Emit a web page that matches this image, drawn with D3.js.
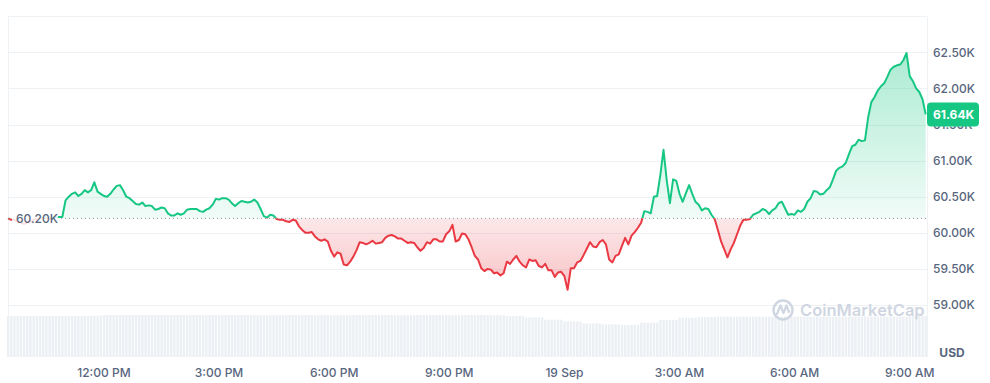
<!DOCTYPE html>
<html>
<head>
<meta charset="utf-8">
<script src="https://cdn.jsdelivr.net/npm/d3@7"></script>
<style>
  body { margin: 0; background: #fff; }
  svg { display: block; font-family: Inter, "Noto Sans", sans-serif; }
  .tick-label { font-size: 12px; font-weight: 500; fill: #58667e; }
</style>
</head>
<body>
<div id="chart"></div>
<script>
// BTC price, thousands USD, one value every 5 minutes from 18 Sep 9:30 AM
const prices = [
  60.20, 60.18, 60.18, 60.16, 60.14, 60.12, 60.14, 60.16, 60.18, 60.19,
  60.20, 60.20, 60.20, 60.20, 60.21, 60.22, 60.22, 60.22, 60.45, 60.50,
  60.54, 60.56, 60.51, 60.54, 60.59, 60.56, 60.59, 60.70, 60.57, 60.54,
  60.51, 60.50, 60.54, 60.60, 60.65, 60.66, 60.59, 60.50, 60.48, 60.44,
  60.40, 60.39, 60.42, 60.37, 60.38, 60.37, 60.32, 60.33, 60.35, 60.34,
  60.27, 60.24, 60.24, 60.27, 60.25, 60.27, 60.32, 60.33, 60.33, 60.33,
  60.30, 60.29, 60.32, 60.34, 60.39, 60.47, 60.46, 60.48, 60.48, 60.46,
  60.41, 60.37, 60.41, 60.44, 60.43, 60.42, 60.43, 60.46, 60.42, 60.33,
  60.23, 60.21, 60.25, 60.24, 60.19, 60.18, 60.18, 60.16, 60.15, 60.18,
  60.17, 60.09, 60.04, 60.00, 60.00, 60.01, 59.95, 59.91, 59.89, 59.91,
  59.88, 59.75, 59.67, 59.73, 59.71, 59.56, 59.55, 59.60, 59.67, 59.76,
  59.87, 59.86, 59.84, 59.86, 59.89, 59.85, 59.86, 59.87, 59.93, 59.96,
  59.97, 59.95, 59.92, 59.92, 59.89, 59.86, 59.87, 59.86, 59.80, 59.75,
  59.79, 59.87, 59.85, 59.91, 59.91, 59.88, 59.88, 59.98, 60.02, 60.11,
  59.88, 59.90, 59.99, 59.98, 59.91, 59.80, 59.68, 59.63, 59.51, 59.47,
  59.50, 59.49, 59.44, 59.45, 59.41, 59.44, 59.60, 59.57, 59.63, 59.68,
  59.60, 59.55, 59.52, 59.63, 59.61, 59.62, 59.54, 59.52, 59.57, 59.48,
  59.48, 59.39, 59.45, 59.46, 59.40, 59.21, 59.51, 59.51, 59.59, 59.61,
  59.69, 59.78, 59.87, 59.81, 59.80, 59.87, 59.90, 59.84, 59.63, 59.59,
  59.68, 59.70, 59.82, 59.93, 59.84, 59.96, 60.01, 60.07, 60.14, 60.30,
  60.29, 60.27, 60.50, 60.51, 60.80, 61.15, 60.73, 60.41, 60.74, 60.72,
  60.54, 60.43, 60.55, 60.66, 60.54, 60.43, 60.39, 60.31, 60.34, 60.33,
  60.25, 60.19, 60.04, 59.88, 59.77, 59.66, 59.77, 59.86, 59.98, 60.10,
  60.18, 60.18, 60.19, 60.25, 60.27, 60.29, 60.33, 60.31, 60.26, 60.31,
  60.34, 60.41, 60.43, 60.34, 60.25, 60.26, 60.25, 60.31, 60.29, 60.33,
  60.43, 60.48, 60.58, 60.57, 60.53, 60.54, 60.59, 60.63, 60.74, 60.86,
  60.90, 60.92, 60.97, 61.09, 61.20, 61.22, 61.29, 61.27, 61.28, 61.60,
  61.81, 61.88, 61.97, 62.03, 62.07, 62.16, 62.26, 62.30, 62.32, 62.33,
  62.39, 62.49, 62.17, 62.10, 62.00, 61.95, 61.85, 61.64
];

// volume, billions USD, one value per half hour
const volumes = [
  35.1, 35.1, 35.1, 35.1, 35.4, 36.0, 36.0, 36.0, 36.0, 36.0,
  36.0, 36.0, 36.0, 35.8, 36.0, 36.0, 35.9, 35.9, 36.0, 36.0,
  35.9, 36.0, 36.0, 35.9, 36.0, 35.8, 35.2, 33.9, 32.0, 30.5,
  28.8, 28.0, 27.5, 29.5, 31.8, 33.6, 34.3, 34.6, 34.6, 34.6,
  34.6, 34.6, 34.6, 34.6, 34.6, 34.6, 34.6, 35.0
];

const yTicks = [59, 59.5, 60, 60.5, 61, 61.5, 62, 62.5];
const yGridTop = 63;
const basePrice = 60.20;
const startTime = new Date(2024, 8, 18, 9, 30);
const endTime = new Date(2024, 8, 19, 9, 27);
const stepMinutes = 5;

const colors = {
  UP: '#16c784',
  DOWN: '#ea3943',
  GRID: '#eff2f5',
  TEXT: '#58667e',
  VOL: '#eceff3',
  MARK: '#cfd6e2'
};

const W = 990, H = 383;
const plotLeft = 8, plotRight = 927, volBottom = 357;

const times = prices.map((p, i) => new Date(startTime.getTime() + i * stepMinutes * 60000));

const x = d3.scaleTime().domain([startTime, endTime]).range([plotLeft, plotRight]);
const y = d3.scaleLinear().domain([59, 62.5]).range([305, 52.3]);
const yVol = d3.scaleLinear().domain([0, 36]).range([volBottom, 315]);

const svg = d3.select('#chart').append('svg')
  .attr('width', W)
  .attr('height', H);

const defs = svg.append('defs');
const baseY = y(basePrice);

defs.append('clipPath').attr('id', 'clip-up')
  .append('rect').attr('x', 0).attr('y', 0).attr('width', W).attr('height', baseY);
defs.append('clipPath').attr('id', 'clip-down')
  .append('rect').attr('x', 0).attr('y', baseY).attr('width', W).attr('height', H - baseY);

const gUp = defs.append('linearGradient').attr('id', 'grad-up')
  .attr('gradientUnits', 'userSpaceOnUse')
  .attr('x1', 0).attr('x2', 0).attr('y1', y(62.5)).attr('y2', baseY);
gUp.append('stop').attr('offset', 0).attr('stop-color', colors.UP).attr('stop-opacity', 0.36);
gUp.append('stop').attr('offset', 1).attr('stop-color', colors.UP).attr('stop-opacity', 0.06);

const gDown = defs.append('linearGradient').attr('id', 'grad-down')
  .attr('gradientUnits', 'userSpaceOnUse')
  .attr('x1', 0).attr('x2', 0).attr('y1', baseY).attr('y2', y(59.2));
gDown.append('stop').attr('offset', 0).attr('stop-color', colors.DOWN).attr('stop-opacity', 0.12);
gDown.append('stop').attr('offset', 1).attr('stop-color', colors.DOWN).attr('stop-opacity', 0.3);

// grid
const gridLevels = yTicks.concat([yGridTop]);
svg.append('g').selectAll('line')
  .data(gridLevels)
  .join('line')
  .attr('x1', plotLeft).attr('x2', plotRight)
  .attr('y1', d => Math.round(y(d)) + 0.5)
  .attr('y2', d => Math.round(y(d)) + 0.5)
  .attr('stroke', colors.GRID);

svg.append('g').selectAll('line')
  .data([plotLeft, plotRight])
  .join('line')
  .attr('x1', d => d + 0.5).attr('x2', d => d + 0.5)
  .attr('y1', Math.round(y(yGridTop)) + 0.5).attr('y2', volBottom)
  .attr('stroke', colors.GRID);

// volume bars
const barW = x(times[1]) - x(times[0]);
svg.append('g').selectAll('rect')
  .data(times)
  .join('rect')
  .attr('x', d => x(d) - barW / 2 + 0.5)
  .attr('width', barW - 0.8)
  .attr('y', (d, i) => yVol(volumes[Math.floor(i / 6)]))
  .attr('height', (d, i) => volBottom - yVol(volumes[Math.floor(i / 6)]))
  .attr('fill', colors.VOL);

// watermark
const wm = svg.append('g').attr('fill', 'none').attr('stroke', colors.MARK);
wm.append('circle').attr('cx', 783).attr('cy', 310).attr('r', 9.5).attr('stroke-width', 2.4);
wm.append('path')
  .attr('d', 'M777,314 L780.5,305.5 L783.5,313 L786.5,305.5 L789,312')
  .attr('stroke-width', 2.2).attr('stroke-linejoin', 'round').attr('stroke-linecap', 'round');
svg.append('text')
  .attr('x', 800).attr('y', 316)
  .attr('font-size', 16.5).attr('font-weight', 600)
  .attr('fill', colors.MARK)
  .text('CoinMarketCap');

// areas and line
const area = d3.area()
  .x((d, i) => x(times[i]))
  .y0(baseY)
  .y1(d => y(d));
const line = d3.line()
  .x((d, i) => x(times[i]))
  .y(d => y(d));

svg.append('path').datum(prices)
  .attr('d', area).attr('fill', 'url(#grad-up)').attr('clip-path', 'url(#clip-up)');
svg.append('path').datum(prices)
  .attr('d', area).attr('fill', 'url(#grad-down)').attr('clip-path', 'url(#clip-down)');

svg.append('line')
  .attr('x1', plotLeft + 1).attr('x2', plotRight)
  .attr('y1', baseY).attr('y2', baseY)
  .attr('stroke', '#8d96a8').attr('stroke-width', 1)
  .attr('stroke-dasharray', '1,3');

svg.append('path').datum(prices)
  .attr('d', line).attr('fill', 'none').attr('stroke', colors.UP)
  .attr('stroke-width', 2).attr('stroke-linejoin', 'round')
  .attr('clip-path', 'url(#clip-up)');
svg.append('path').datum(prices)
  .attr('d', line).attr('fill', 'none').attr('stroke', colors.DOWN)
  .attr('stroke-width', 2).attr('stroke-linejoin', 'round')
  .attr('clip-path', 'url(#clip-down)');

// base price label
svg.append('rect')
  .attr('x', 12).attr('y', baseY - 9).attr('width', 46).attr('height', 18)
  .attr('fill', '#fff').attr('fill-opacity', 0.85);
svg.append('text')
  .attr('class', 'tick-label')
  .attr('x', 16).attr('y', baseY).attr('dy', '0.35em')
  .text(`${basePrice.toFixed(2)}K`);

// y axis labels
svg.append('g').selectAll('text')
  .data(yTicks)
  .join('text')
  .attr('class', 'tick-label')
  .attr('x', 933)
  .attr('y', d => y(d))
  .attr('dy', '0.35em')
  .text(d => `${d.toFixed(2)}K`);

svg.append('text')
  .attr('x', 952).attr('y', 353).attr('dy', '0.35em')
  .attr('text-anchor', 'middle')
  .attr('font-size', 12).attr('font-weight', 700).attr('fill', colors.TEXT)
  .text('USD');

// current price badge
const last = prices[prices.length - 1];
svg.append('rect')
  .attr('x', 927).attr('y', y(last) - 12).attr('width', 52).attr('height', 24)
  .attr('rx', 4).attr('fill', colors.UP);
svg.append('text')
  .attr('x', 933).attr('y', y(last)).attr('dy', '0.35em')
  .attr('font-size', 12).attr('font-weight', 700).attr('fill', '#fff')
  .text(`${last.toFixed(2)}K`);

// x axis labels
const fmtHour = d3.timeFormat('%-I:%M %p');
const fmtDay = d3.timeFormat('%-d %b');
svg.append('g').selectAll('text')
  .data(x.ticks(d3.timeHour.every(3)))
  .join('text')
  .attr('class', 'tick-label')
  .attr('x', d => x(d))
  .attr('y', 373)
  .attr('dy', '0.35em')
  .attr('text-anchor', 'middle')
  .text(d => d.getHours() === 0 ? fmtDay(d) : fmtHour(d));
</script>
</body>
</html>
